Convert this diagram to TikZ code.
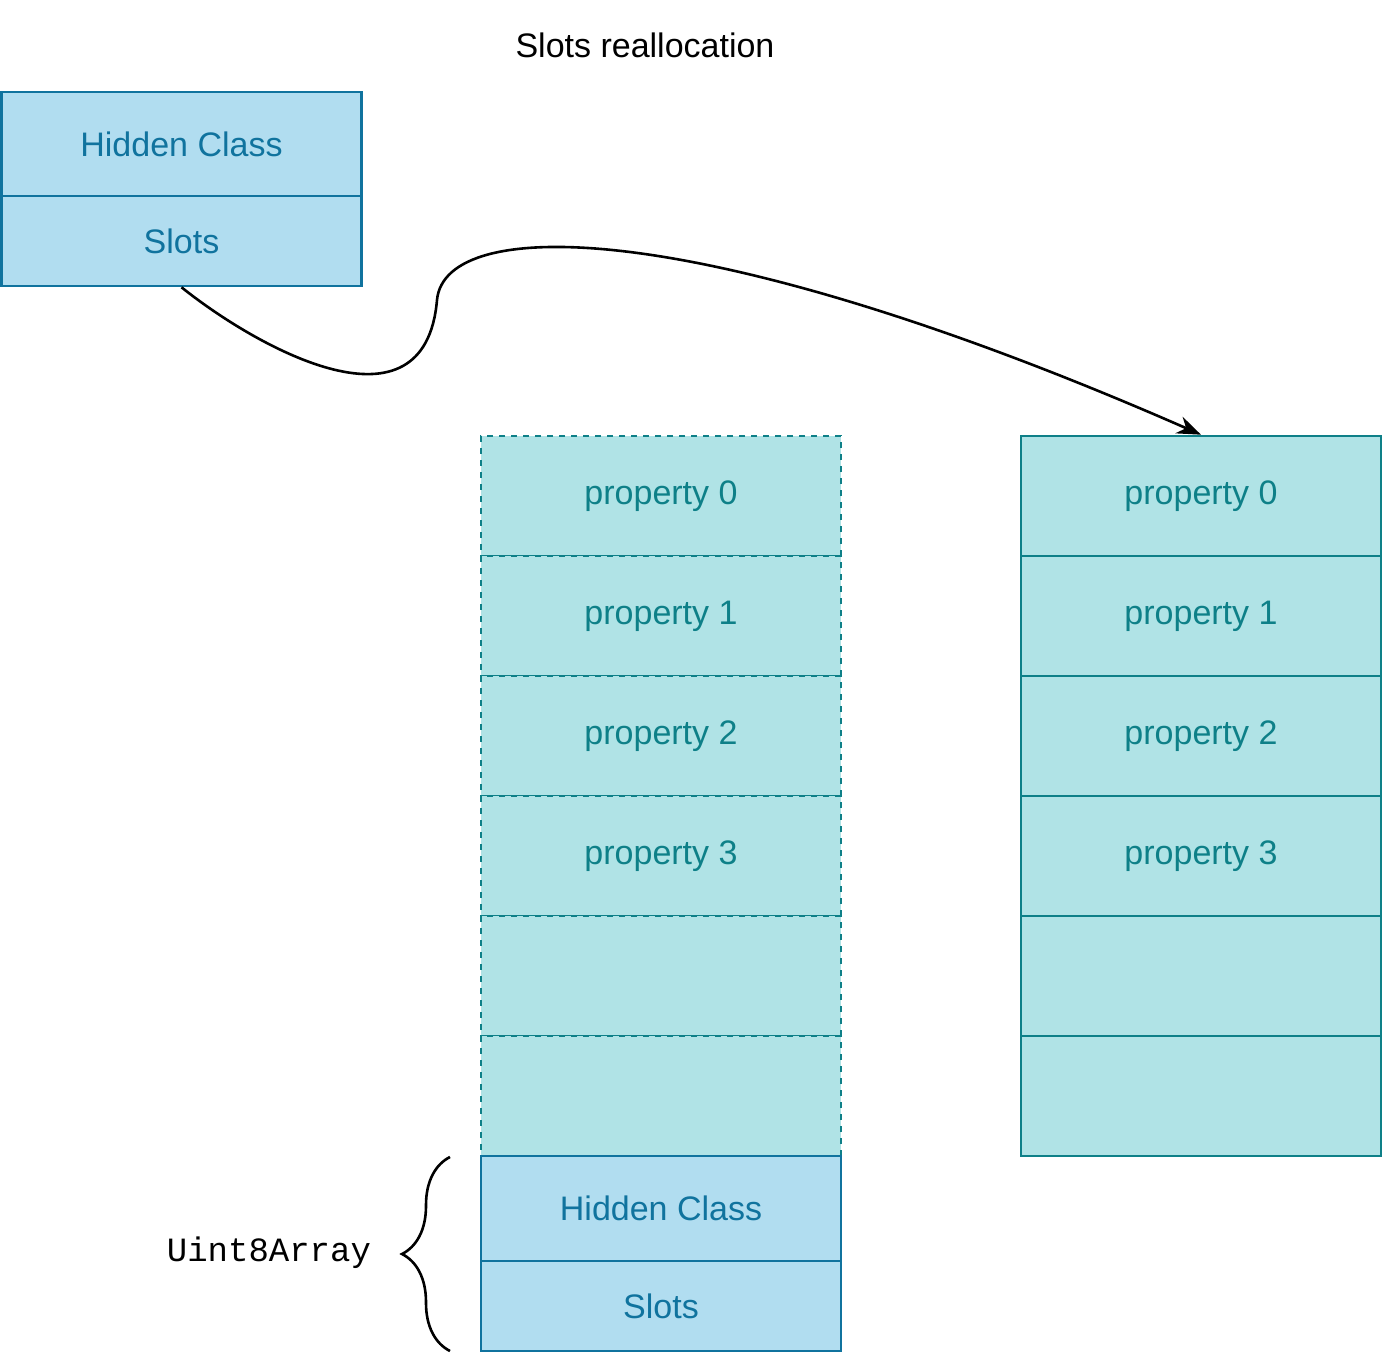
\documentclass[tikz,border=0pt]{standalone}
\usepackage{fontspec}
\setmainfont{Liberation Sans}
\newfontfamily\monof{Liberation Mono}
\usetikzlibrary{decorations.pathreplacing,arrows.meta}
\definecolor{bfill}{HTML}{B1DDF0}\definecolor{bline}{HTML}{10739E}
\definecolor{tfill}{HTML}{B0E3E6}\definecolor{tline}{HTML}{0E8088}
\begin{document}
\begin{tikzpicture}[x=0.5pt,y=-0.5pt,
 bx/.style={draw=bline,fill=bfill,text=bline,line width=1.3pt,minimum width=180pt,inner sep=0pt,font=\fontsize{17}{20}\selectfont},
 tx/.style={draw=tline,fill=tfill,text=tline,line width=1.3pt,minimum width=180pt,minimum height=60pt,inner sep=0pt,font=\fontsize{17}{20}\selectfont},
 dsh/.style={tx,dashed}]
\useasboundingbox (0,0) rectangle (1386,1353);
\node[font=\fontsize{17}{20}\selectfont] (title) at (645,45) {Slots reallocation};
\node[bx,minimum height=52pt] (hc1) at (181.5,144) {Hidden Class};
\node[bx,minimum height=45pt] (sl1) at (181.5,241) {Slots};
\foreach \i/\t in {0/property 0,1/property 1,2/property 2,3/property 3,4/,5/}{
  \node[dsh] (d\i) at (661,496+120*\i) {\t};
  \node[tx] (r\i) at (1201,496+120*\i) {\t};
}
\node[bx,minimum height=52.5pt] (hc2) at (661,1208.5) {Hidden Class};
\node[bx,minimum height=45pt] (sl2) at (661,1306) {Slots};
\draw[line width=1.3pt,-{Stealth[length=12pt,width=9pt]}] (sl1.south) .. controls (260,350) and (425,440) .. (437,300) .. controls (445,215) and (700,215) .. (r0.north);
\coordinate (bt) at (450,1157); \coordinate (bb) at (450,1351);
\draw[line width=1.3pt,decorate,decoration={brace,amplitude=24pt,mirror}] (bt) -- (bb);
\node[font=\monof\fontsize{17}{20}\selectfont,anchor=east] (u) at (378,1253) {Uint8Array};
\end{tikzpicture}
\end{document}
